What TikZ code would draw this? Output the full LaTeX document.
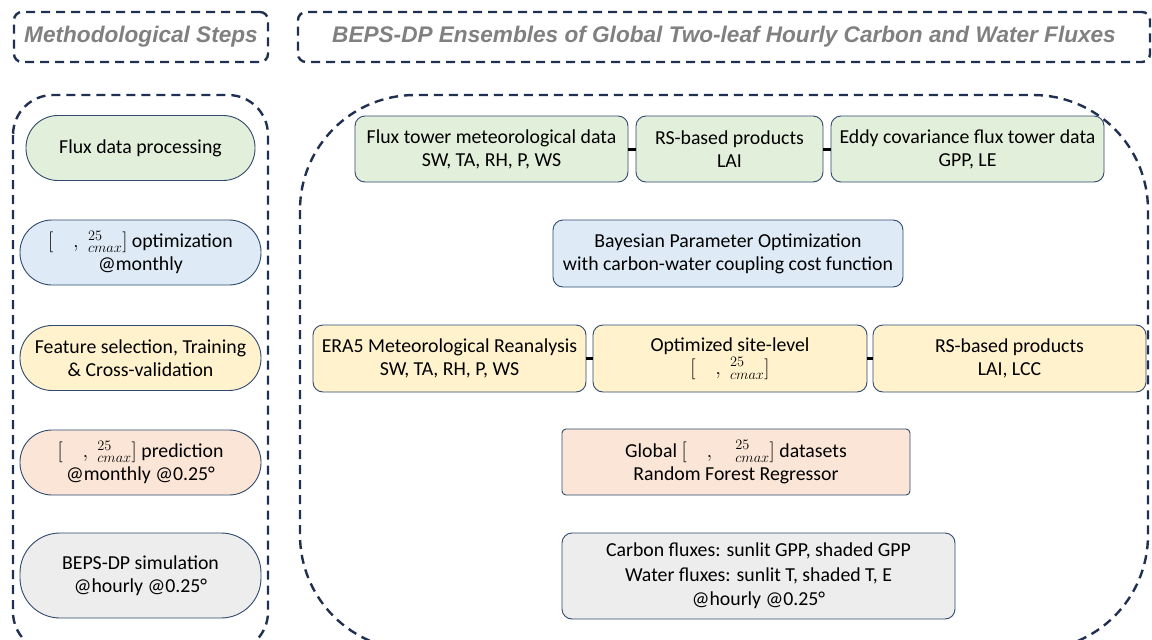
\documentclass[tikz,border=0pt]{standalone}
\usepackage{fontspec}
\setmainfont{Carlito}
\newfontfamily\hdrfont{Liberation Sans}
\begin{document}
\begin{tikzpicture}[x=1pt,y=-1pt,
  bigdash/.style={draw=dashnavy,line width=2.4pt,dash pattern=on 9pt off 6pt},
  hdr/.style={bigdash,rounded corners=8pt,font=\hdrfont\bfseries\itshape\fontsize{22.6}{26}\selectfont,text=hdrgray},
  pill/.style={draw=frameblue,line width=0.9pt,rounded corners=32pt,minimum height=65pt,align=center,font=\fontsize{19.8}{23}\selectfont,inner sep=0pt},
  rbox/.style={draw=frameblue,line width=0.9pt,rounded corners=10pt,minimum height=66pt,align=center,font=\fontsize{19.8}{23}\selectfont,inner sep=0pt},
  link/.style={draw=black,line width=3pt}
]
\definecolor{frameblue}{HTML}{2F4A6E}
\definecolor{dashnavy}{HTML}{1F3050}
\definecolor{hdrgray}{HTML}{808080}
\definecolor{cgreen}{HTML}{E2EFDA}
\definecolor{cblue}{HTML}{DEEBF7}
\definecolor{cyellow}{HTML}{FFF2CC}
\definecolor{corange}{HTML}{FBE5D6}
\definecolor{cgray}{HTML}{EDEDED}
\useasboundingbox (0,0) rectangle (1152,640);
\fill[white] (0,0) rectangle (1152,640);

% headers
\node[hdr,minimum width=254pt,minimum height=50pt] (h1) at (141,37) {Methodological Steps};
\node[hdr,minimum width=852pt,minimum height=50pt] (h2) at (724,37) {BEPS-DP Ensembles of Global Two-leaf Hourly Carbon and Water Fluxes};

% big dashed regions
\draw[bigdash,rounded corners=40pt] (13,95) rectangle (268,652);
\draw[bigdash,rounded corners=115pt] (300,95) rectangle (1148,650);

% left pills
\node[pill,fill=cgreen,minimum width=229pt] (p1) at (140.5,148) {Flux data processing};
\node[pill,fill=cblue,minimum width=241pt] (p2) at (140.5,252.5) {$[\quad,\;{}^{25}_{cmax}]$ optimization\\@monthly};
\node[pill,fill=cyellow,minimum width=241pt] (p3) at (140.5,358) {Feature selection, Training\\\& Cross-validation};
\node[pill,fill=corange,minimum width=241pt] (p4) at (140.5,462.5) {$[\quad,\;{}^{25}_{cmax}]$ prediction\\@monthly @0.25°};
\node[pill,fill=cgray,minimum width=241pt,minimum height=85pt,rounded corners=40pt] (p5) at (140.5,575.5) {BEPS-DP simulation\\@hourly @0.25°};

% right boxes
\node[rbox,fill=cgreen,minimum width=273pt] (r1a) at (491.5,149) {Flux tower meteorological data\\SW, TA, RH, P, WS};
\node[rbox,fill=cgreen,minimum width=187pt] (r1b) at (729.5,149) {RS-based products\\LAI};
\node[rbox,fill=cgreen,minimum width=273pt] (r1c) at (967.5,149) {Eddy covariance flux tower data\\GPP, LE};
\node[rbox,fill=cblue,minimum width=350pt,minimum height=67pt] (r2) at (728,253.5) {Bayesian Parameter Optimization\\with carbon-water coupling cost function};
\node[rbox,fill=cyellow,minimum width=273pt,minimum height=67pt] (r3a) at (449.5,358.5) {ERA5 Meteorological Reanalysis\\SW, TA, RH, P, WS};
\node[rbox,fill=cyellow,minimum width=274pt,minimum height=67pt] (r3b) at (730,358.5) {Optimized site-level\\$[\quad,\;{}^{25}_{cmax}]$};
\node[rbox,fill=cyellow,minimum width=273pt,minimum height=67pt] (r3c) at (1009.5,358.5) {RS-based products\\LAI, LCC};
\node[rbox,fill=corange,minimum width=348pt,rounded corners=4pt] (r4) at (736,462) {Global $[\quad,\quad{}^{25}_{cmax}]$ datasets\\Random Forest Regressor};
\node[rbox,fill=cgray,minimum width=393pt,minimum height=86pt,font=\fontsize{19.8}{24.5}\selectfont] (r5) at (758.5,576) {Carbon fluxes: sunlit GPP, shaded GPP\\Water fluxes: sunlit T, shaded T, E\\@hourly @0.25°};

% connectors
\draw[link] (r1a.east) -- (r1b.west);
\draw[link] (r1b.east) -- (r1c.west);
\draw[link] (r3a.east) -- (r3b.west);
\draw[link] (r3b.east) -- (r3c.west);
\end{tikzpicture}
\end{document}
